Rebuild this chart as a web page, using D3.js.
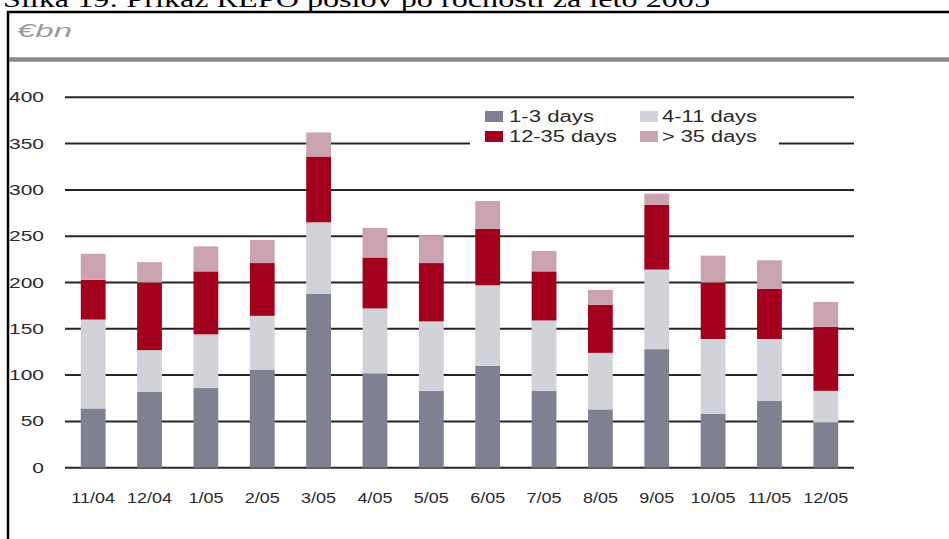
<!DOCTYPE html>
<html>
<head>
<meta charset="utf-8">
<script src="https://cdn.jsdelivr.net/npm/d3@7/dist/d3.min.js"></script>
<style>
  html, body { margin: 0; padding: 0; background: #fff; }
  svg { display: block; }
</style>
</head>
<body>
<svg id="chart" width="949" height="539"></svg>
<script>
// Months (Nov 2004 – Dec 2005)
const categories = ["11/04", "12/04", "1/05", "2/05", "3/05", "4/05", "5/05",
                    "6/05", "7/05", "8/05", "9/05", "10/05", "11/05", "12/05"];

// Maturity buckets, € bn per month
const seriesNames = ["1-3 days", "4-11 days", "12-35 days", "> 35 days"];
const days1to3   = [64, 82, 86, 106, 188, 102, 83, 110, 83, 63, 128, 58, 72, 49];
const days4to11  = [96, 45, 58, 58, 77, 70, 75, 87, 76, 61, 86, 81, 67, 34];
const days12to35 = [43, 73, 68, 57, 71, 55, 63, 61, 53, 52, 70, 61, 54, 69];
const daysOver35 = [28, 22, 27, 25, 26, 32, 30, 30, 22, 16, 12, 29, 31, 27];

const yTicks = [0, 50, 100, 150, 200, 250, 300, 350, 400];
const colors = ["#7f8090", "#d2d3d8", "#a3001e", "#cba3b0"];

const svg = d3.select("#chart");

// Caption above the frame
svg.append("text")
  .attr("x", 3).attr("y", 7)
  .attr("font-family", "'Liberation Serif', 'Times New Roman', serif")
  .attr("font-size", 24)
  .attr("fill", "#000")
  .attr("textLength", 707)
  .attr("lengthAdjust", "spacingAndGlyphs")
  .text("Slika 19: Prikaz REPO poslov po ročnosti za leto 2005");

// Frame: top and left rules
svg.append("line").attr("x1", 7).attr("x2", 949).attr("y1", 12).attr("y2", 12)
  .attr("stroke", "#000").attr("stroke-width", 2.5);
svg.append("line").attr("x1", 8).attr("x2", 8).attr("y1", 11).attr("y2", 539)
  .attr("stroke", "#000").attr("stroke-width", 2.5);

// Unit label and header rule
svg.append("text")
  .attr("x", 17).attr("y", 37)
  .attr("font-family", "Arial, 'Liberation Sans', sans-serif")
  .attr("font-style", "italic")
  .attr("font-size", 18)
  .attr("fill", "#9a9a9a")
  .attr("textLength", 55)
  .attr("lengthAdjust", "spacingAndGlyphs")
  .text("€bn");
svg.append("line").attr("x1", 9).attr("x2", 949).attr("y1", 59.5).attr("y2", 59.5)
  .attr("stroke", "#8a8a8a").attr("stroke-width", 4.5);

// Scales
const x = d3.scaleBand().domain(categories).range([65, 854])
  .paddingInner(0.56).paddingOuter(0.28);
const y = d3.scaleLinear().domain([0, 400]).range([467.7, 97.3]);

// Gridlines
svg.append("g").selectAll("line").data(yTicks).join("line")
  .attr("x1", 65).attr("x2", 854)
  .attr("y1", d => y(d)).attr("y2", d => y(d))
  .attr("stroke", "#262626").attr("stroke-width", 2);

// Y tick labels
svg.append("g").selectAll("text").data(yTicks).join("text")
  .attr("transform", d => `translate(44,${y(d) + 5}) scale(1.4,1)`)
  .attr("text-anchor", "end")
  .attr("font-family", "Arial, 'Liberation Sans', sans-serif")
  .attr("font-size", 15)
  .attr("fill", "#2a2a2a")
  .text(d => d);

// Stacked bars
const table = categories.map((c, i) => ({
  month: c,
  "1-3 days": days1to3[i],
  "4-11 days": days4to11[i],
  "12-35 days": days12to35[i],
  "> 35 days": daysOver35[i]
}));
const stacked = d3.stack().keys(seriesNames)(table);

svg.append("g").selectAll("g").data(stacked).join("g")
  .attr("fill", (d, i) => colors[i])
  .selectAll("rect").data(d => d).join("rect")
  .attr("x", d => x(d.data.month))
  .attr("width", x.bandwidth())
  .attr("y", d => y(d[1]))
  .attr("height", d => y(d[0]) - y(d[1]));

// X labels
svg.append("g").selectAll("text").data(categories).join("text")
  .attr("transform", d => `translate(${x(d) + x.bandwidth() / 2},503) scale(1.2,1)`)
  .attr("text-anchor", "middle")
  .attr("font-family", "Arial, 'Liberation Sans', sans-serif")
  .attr("font-size", 15)
  .attr("fill", "#2a2a2a")
  .text(d => d);

// Legend
const legend = svg.append("g");
legend.append("rect").attr("x", 470).attr("y", 102).attr("width", 309).attr("height", 48)
  .attr("fill", "#fff");
const legendPos = [
  { sx: 485, sy: 111, tx: 509, ty: 122, w: 85 },
  { sx: 640, sy: 111, tx: 662, ty: 122, w: 95 },
  { sx: 485, sy: 131, tx: 509, ty: 142, w: 108 },
  { sx: 640, sy: 131, tx: 662, ty: 142, w: 95 }
];
seriesNames.forEach((name, i) => {
  const p = legendPos[i];
  legend.append("rect").attr("x", p.sx).attr("y", p.sy).attr("width", 18).attr("height", 11)
    .attr("fill", colors[i]);
  legend.append("text")
    .attr("x", p.tx).attr("y", p.ty)
    .attr("font-family", "Arial, 'Liberation Sans', sans-serif")
    .attr("font-size", 16)
    .attr("fill", "#2a2a2a")
    .attr("textLength", p.w)
    .attr("lengthAdjust", "spacingAndGlyphs")
    .text(name);
});
</script>
</body>
</html>
